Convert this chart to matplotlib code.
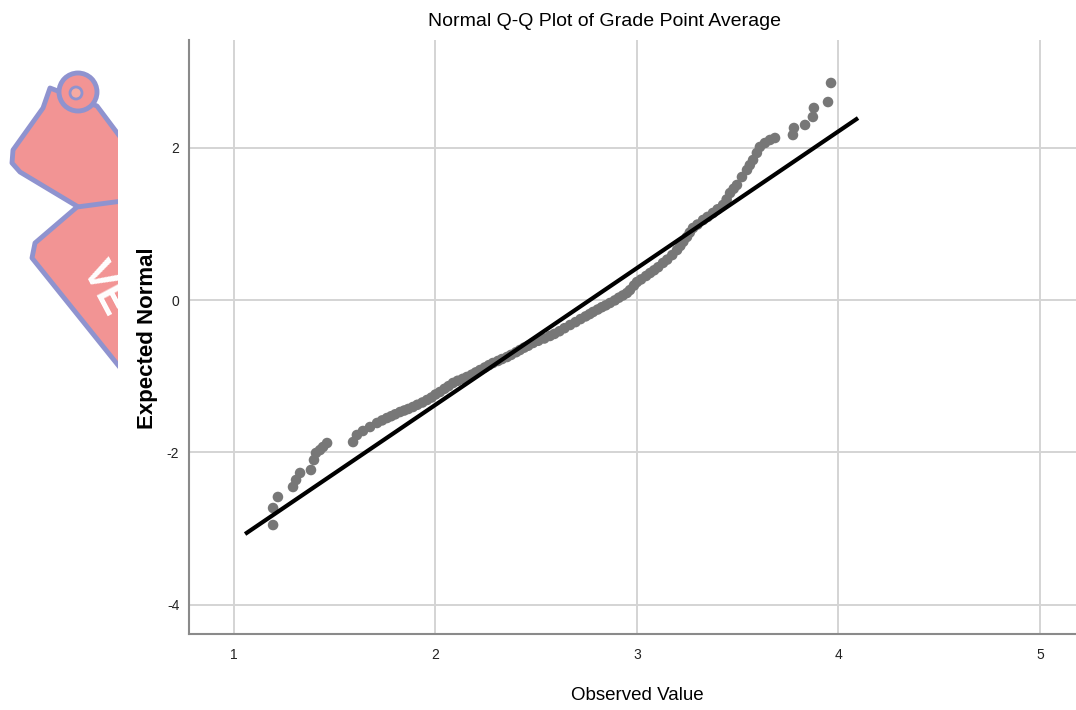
import matplotlib
matplotlib.use("Agg")
import matplotlib.pyplot as plt
from matplotlib.patches import Polygon, Circle

# GPA values (observed) and their expected normal scores, sorted
observed = [1.194, 1.194, 1.218, 1.293, 1.308, 1.328, 1.382, 1.397, 1.407, 1.427,
            1.442, 1.462, 1.591, 1.610, 1.640, 1.675, 1.710, 1.735, 1.759, 1.780,
            1.800, 1.824, 1.845, 1.865, 1.888, 1.910, 1.935, 1.958, 1.980, 2.000,
            2.022, 2.045, 2.065, 2.087, 2.110, 2.135, 2.156, 2.180, 2.200, 2.221,
            2.245, 2.265, 2.285, 2.310, 2.330, 2.355, 2.375, 2.400, 2.419, 2.440,
            2.460, 2.484, 2.510, 2.540, 2.568, 2.590, 2.615, 2.640, 2.668, 2.695,
            2.720, 2.745, 2.765, 2.782, 2.805, 2.825, 2.845, 2.866, 2.890, 2.910,
            2.930, 2.950, 2.965, 2.985, 3.000, 3.020, 3.045, 3.065, 3.085, 3.105,
            3.129, 3.150, 3.175, 3.199, 3.215, 3.230, 3.248, 3.262, 3.278, 3.300,
            3.328, 3.350, 3.377, 3.400, 3.427, 3.445, 3.462, 3.480, 3.496, 3.521,
            3.546, 3.560, 3.576, 3.595, 3.610, 3.635, 3.660, 3.685, 3.774, 3.779,
            3.834, 3.873, 3.878, 3.948, 3.963]
expected = [-2.953, -2.730, -2.585, -2.454, -2.362, -2.270, -2.231, -2.100, -2.008, -1.969,
            -1.929, -1.877, -1.864, -1.772, -1.719, -1.667, -1.614, -1.580, -1.549, -1.525,
            -1.500, -1.470, -1.450, -1.430, -1.404, -1.375, -1.345, -1.312, -1.280, -1.240,
            -1.207, -1.165, -1.130, -1.089, -1.060, -1.035, -1.010, -0.980, -0.950, -0.919,
            -0.885, -0.855, -0.827, -0.800, -0.775, -0.748, -0.720, -0.685, -0.656, -0.625,
            -0.600, -0.564, -0.535, -0.505, -0.472, -0.445, -0.410, -0.370, -0.328, -0.290,
            -0.250, -0.215, -0.185, -0.157, -0.125, -0.095, -0.070, -0.039, -0.005, 0.030,
            0.060, 0.092, 0.130, 0.190, 0.236, 0.270, 0.315, 0.354, 0.390, 0.430,
            0.486, 0.530, 0.590, 0.656, 0.710, 0.765, 0.827, 0.885, 0.945, 0.990,
            1.050, 1.090, 1.142, 1.190, 1.247, 1.320, 1.404, 1.460, 1.509, 1.614,
            1.706, 1.770, 1.837, 1.930, 2.008, 2.060, 2.100, 2.126, 2.165, 2.257,
            2.297, 2.402, 2.520, 2.598, 2.848]

# reference line end points
line_x = [1.055, 4.097]
line_y = [-3.071, 2.388]

x_ticks = [1, 2, 3, 4, 5]
y_ticks = [-4, -2, 0, 2]

sans = ["Liberation Sans", "DejaVu Sans"]

W, H = 1076, 710
fig = plt.figure(figsize=(W / 100, H / 100), dpi=100)
fig.patch.set_facecolor("white")

# main plot area
ax = fig.add_axes([189 / W, 1 - 634 / H, (W - 189) / W, (634 - 40) / H])
ax.set_xlim(0.7767, 5.1787)
ax.set_ylim(-4.383, 3.412)
ax.set_xticks(x_ticks)
ax.set_yticks(y_ticks)
ax.set_xticklabels([str(t) for t in x_ticks], family=sans, fontsize=10, color="#222222")
ax.set_yticklabels([str(t) for t in y_ticks], family=sans, fontsize=10, color="#222222")
ax.tick_params(length=0)
ax.tick_params(axis="x", pad=10)
ax.tick_params(axis="y", pad=7)
ax.grid(True, color="#d4d4d4", linewidth=1.4)
ax.set_axisbelow(True)
for side in ["top", "right"]:
    ax.spines[side].set_visible(False)
for side in ["left", "bottom"]:
    ax.spines[side].set_color("#8a8a8a")
    ax.spines[side].set_linewidth(1.5)

ax.scatter(observed, expected, s=58, color="#777777", edgecolors="none", zorder=3)
ax.plot(line_x, line_y, color="black", linewidth=3, zorder=4, solid_capstyle="butt")

fig.text(605 / W, 1 - 22 / H, "Normal Q-Q Plot of Grade Point Average",
         family=sans, fontsize=14, ha="center", va="center", color="black")
fig.text(637 / W, 1 - 695 / H, "Observed Value",
         family=sans, fontsize=13.5, ha="center", va="center", color="black")
fig.text(148 / W, 1 - 338 / H, "Expected Normal", family=sans,
         fontweight="bold", fontsize=16, rotation=90, ha="center", va="center",
         color="black")

# faded logo in the left margin, cut off at the plot's left side
logo = fig.add_axes([0, 0, 118 / W, 1])
logo.set_xlim(0, 118)
logo.set_ylim(H, 0)
logo.axis("off")
pink = "#f29494"
blue = "#8f93cf"
upper = Polygon([(50, 88), (43, 108), (13, 150), (12, 163), (20, 172), (80, 208),
                 (130, 214), (130, 150), (97, 106)],
                closed=True, facecolor=pink, edgecolor=blue, linewidth=3.5, joinstyle="round")
logo.add_patch(upper)
logo.add_patch(Circle((78, 92), 19, facecolor=pink, edgecolor=blue, linewidth=3.5))
logo.add_patch(Circle((76, 93), 6, facecolor="#f5aaa2", edgecolor=blue, linewidth=2))
lower = Polygon([(130, 200), (77, 207), (35, 243), (32, 258), (130, 380)],
                closed=True, facecolor=pink, edgecolor=blue, linewidth=3.5, joinstyle="round")
logo.add_patch(lower)
logo.text(104, 288, "VE", family=sans, fontweight="bold", fontsize=30,
          color="white", rotation=-62, ha="center", va="center")

fig.savefig("out.png", dpi=100)
